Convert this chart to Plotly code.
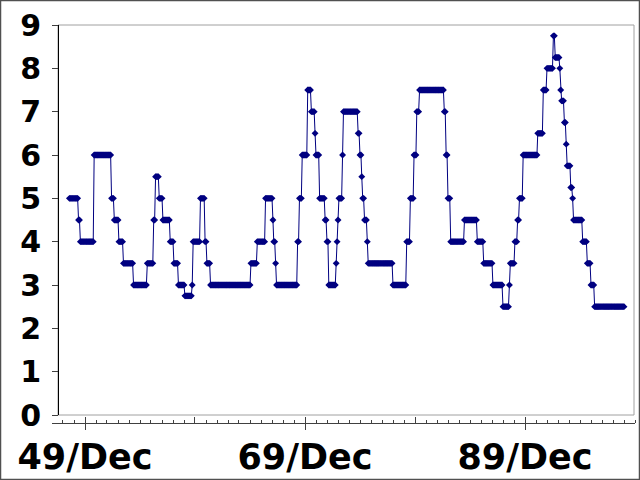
import numpy as np
import pandas as pd
import plotly.graph_objects as go

# Discount rate (%), month-end values, as runs: rate and number of months, from Jul 1948
start_month = "1948-07-01"
rates = [5.0, 4.5, 4.0, 6.0, 5.0, 4.5, 4.0, 3.5, 3.0, 3.5, 4.5, 5.5, 5.0, 4.5, 4.0, 3.5, 3.0,
         2.75, 3.0, 4.0, 5.0, 4.0, 3.5, 3.0, 3.5, 4.0, 5.0, 4.5, 4.0, 3.5, 3.0, 4.0, 5.0, 6.0,
         7.5, 7.0, 6.5, 6.0, 5.0, 4.5, 4.0, 3.0, 3.5, 4.0, 4.5, 5.0, 6.0, 7.0, 6.5, 6.0, 5.5,
         5.0, 4.5, 4.0, 3.5, 3.0, 4.0, 5.0, 6.0, 7.0, 7.5, 7.0, 6.0, 5.0, 4.0, 4.5, 4.0, 3.5,
         3.0, 2.5, 3.0, 3.5, 4.0, 4.5, 5.0, 6.0, 6.5, 7.5, 8.0, 8.75, 8.25, 8.0, 7.5, 7.25,
         6.75, 6.25, 5.75, 5.25, 5.0, 4.5, 4.0, 3.5, 3.0, 2.5]
months = [10, 2, 15, 19, 3, 5, 5, 11, 15, 7, 2, 4, 4, 8, 4, 5, 7,
          8, 1, 8, 5, 2, 4, 44, 7, 9, 8, 1, 2, 1, 23, 2, 3, 6,
          4, 4, 1, 4, 6, 2, 2, 8, 1, 1, 1, 4, 1, 16, 2, 2, 1,
          2, 3, 1, 27, 15, 4, 4, 3, 3, 27, 2, 2, 3, 15, 14, 7, 10,
          11, 7, 1, 5, 3, 2, 4, 16, 6, 4, 7, 2, 5, 1, 1, 3,
          2, 1, 4, 2, 1, 10, 5, 4, 4, 33]

major_years = [1949, 1959, 1969, 1979, 1989]
major_labels = ["49/Dec", "", "69/Dec", "", "89/Dec"]
axis_start, axis_end = "1946-12-31", "1999-12-31"

n = sum(months)
dates = pd.date_range(start=start_month, periods=n, freq="MS") + pd.offsets.MonthEnd(0)
values = np.repeat(rates, months)

major_vals = [f"{y}-12-31" for y in major_years]
minor_vals = [f"{y}-12-31" for y in range(1947, 2000)]

NAVY = "#000080"
fig = go.Figure()
fig.add_trace(go.Scatter(
    x=dates, y=values, mode="lines+markers",
    line=dict(color=NAVY, width=1),
    marker=dict(symbol="diamond", size=5.3, color=NAVY, line=dict(width=0)),
    showlegend=False, hoverinfo="skip", cliponaxis=False,
))
fig.add_trace(go.Scatter(x=[dates[0]], y=[None], xaxis="x2", yaxis="y",
                         showlegend=False, hoverinfo="skip"))

L, R, T, B = 52, 5, 25, 57
W, H = 640, 480
pw, ph = W - L - R, H - T - B
ydom0 = 8 / ph
yaxis_pos = 6 / pw

font_family = "DejaVu Sans"
fig.update_layout(
    width=W, height=H,
    margin=dict(l=L, r=R, t=T, b=B, pad=0, autoexpand=False),
    paper_bgcolor="white", plot_bgcolor="white",
    xaxis=dict(
        type="date", range=[axis_start, axis_end], domain=[0, 1],
        anchor="free", position=0, automargin=False,
        showgrid=False, zeroline=False,
        showline=True, linecolor="#404040", linewidth=1,
        tickmode="array", tickvals=major_vals, ticktext=major_labels,
        ticks="outside", ticklen=6, tickwidth=1, tickcolor="#404040",
        tickfont=dict(family=font_family, size=35, color="black", weight="bold"),
        ticklabelstandoff=-3,
        minor=dict(tickmode="array", tickvals=minor_vals, ticks="inside",
                   ticklen=3, tickwidth=1, tickcolor="#404040", showgrid=False),
    ),
    xaxis2=dict(
        type="date", range=[axis_start, axis_end], domain=[0, 1],
        overlaying="x", anchor="free", position=0, automargin=False,
        showgrid=False, zeroline=False, showline=False,
        tickmode="array", tickvals=major_vals, showticklabels=False,
        ticks="inside", ticklen=6, tickwidth=1, tickcolor="#404040",
    ),
    yaxis=dict(
        range=[0, 9], domain=[ydom0, 1], anchor="free", position=yaxis_pos,
        automargin=False,
        showgrid=False, zeroline=False,
        showline=True, linecolor="black", linewidth=1,
        tickmode="array", tickvals=list(range(0, 10)),
        ticks="outside", ticklen=6, tickwidth=1, tickcolor="#404040",
        tickfont=dict(family=font_family, size=30, color="black", weight="bold"),
        ticklabelstandoff=5,
    ),
    shapes=[
        dict(type="rect", xref="paper", yref="y domain",
             x0=yaxis_pos, x1=(pw - 1) / pw, y0=0, y1=1,
             line=dict(color="#a0a0a0", width=1), layer="below"),
        dict(type="rect", xref="paper", yref="paper",
             x0=-L / pw + 0.5 / pw, x1=1 + (R - 0.5) / pw,
             y0=-B / ph + 0.5 / ph, y1=1 + (T - 0.5) / ph,
             line=dict(color="#505050", width=1.5), layer="above"),
    ],
)

fig.write_html("out.html", config={"displayModeBar": False},
               post_script="document.body.style.margin='0';document.body.style.padding='0';")
